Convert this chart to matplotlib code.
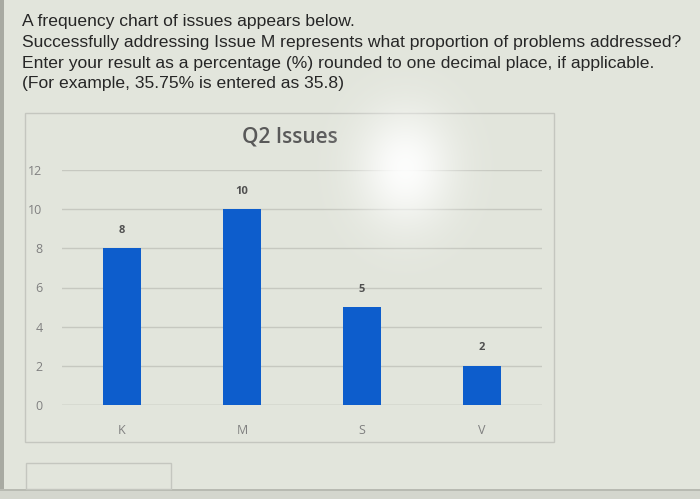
import numpy as np
import matplotlib
matplotlib.use("Agg")
import matplotlib.pyplot as plt
from matplotlib.patches import Rectangle

categories = ["K", "M", "S", "V"]
values = [8, 10, 5, 2]
yticks = [0, 2, 4, 6, 8, 10, 12]
title = "Q2 Issues"
question = [
    "A frequency chart of issues appears below.",
    "Successfully addressing Issue M represents what proportion of problems addressed?",
    "Enter your result as a percentage (%) rounded to one decimal place, if applicable.",
    "(For example, 35.75% is entered as 35.8)",
]

W, H = 700, 499
bg = "#e2e5dc"
fig = plt.figure(figsize=(W / 100, H / 100), dpi=100, facecolor=bg)

def fx(px):
    return px / W

def fy(py):
    return 1 - py / H

# left dark strip and bottom band
fig.patches.append(Rectangle((0, 0), fx(4), 1, transform=fig.transFigure,
                             facecolor="#a8aaa2", edgecolor="none", zorder=0))
fig.patches.append(Rectangle((0, 0), 1, fy(489), transform=fig.transFigure,
                             facecolor="#d4d6ce", edgecolor="none", zorder=0))
fig.patches.append(Rectangle((0, fy(491)), 1, fy(489) - fy(491), transform=fig.transFigure,
                             facecolor="#b8bab2", edgecolor="none", zorder=0))

# question text
baselines = [26, 47, 68, 88]
for line, b in zip(question, baselines):
    fig.text(fx(22), fy(b), line, fontsize=12.6, family="Liberation Sans",
             color="#262626", va="baseline", ha="left")

# chart frame
fig.patches.append(Rectangle((fx(25), fy(442)), fx(554) - fx(25), fy(113) - fy(442),
                             transform=fig.transFigure, facecolor="none",
                             edgecolor="#c4c6bf", linewidth=1.0, zorder=1))
# answer box
fig.patches.append(Rectangle((fx(26), fy(489)), fx(171) - fx(26), fy(463) - fy(489),
                             transform=fig.transFigure, facecolor="none",
                             edgecolor="#c4c6bf", linewidth=1.0, zorder=1))

ax = fig.add_axes([fx(62), fy(405), fx(542) - fx(62), fy(170) - fy(405)])
ax.set_facecolor("none")
x = np.arange(len(categories))
bars = ax.bar(x, values, width=0.31, color="#0d5dcc", zorder=3)
ax.set_xlim(-0.5, len(categories) - 0.5)
ax.set_ylim(0, 12)
ax.set_yticks(yticks)
ax.set_xticks(x)
ax.set_xticklabels(categories)
ax.yaxis.grid(True, color="#c6c8c0", linewidth=1.0, zorder=0)
ax.axhline(0, color="#c6c8c0", linewidth=1.0, zorder=1)
ax.set_axisbelow(True)
for s in ax.spines.values():
    s.set_visible(False)
ax.tick_params(axis="both", length=0, colors="#808080", labelsize=9)
ax.tick_params(axis="y", pad=14)
ax.tick_params(axis="x", pad=14)
for lab in ax.get_xticklabels() + ax.get_yticklabels():
    lab.set_family("Open Sans")
for xi, v in zip(x, values):
    ax.annotate(str(v), (xi, v), xytext=(0, 9), textcoords="offset points",
                ha="center", va="bottom", fontsize=8, fontweight="bold",
                color="#505050", family="Open Sans")

fig.text(fx(290), fy(137), title, fontsize=15, family="Open Sans",
         fontweight="semibold", color="#595959", ha="center", va="center")

# glare overlay
ov = fig.add_axes([0, 0, 1, 1], zorder=10)
ov.set_axis_off()
yy, xx = np.mgrid[0:H, 0:W]
d2 = ((xx - 405) / 48.0) ** 2 + ((yy - 168) / 58.0) ** 2
alpha = 0.92 * np.exp(-d2)
img = np.ones((H, W, 4))
img[..., 3] = alpha
ov.imshow(img, extent=(0, W, H, 0), aspect="auto", interpolation="bilinear")
ov.set_xlim(0, W)
ov.set_ylim(H, 0)

fig.savefig("out.png", dpi=100, facecolor=bg)
